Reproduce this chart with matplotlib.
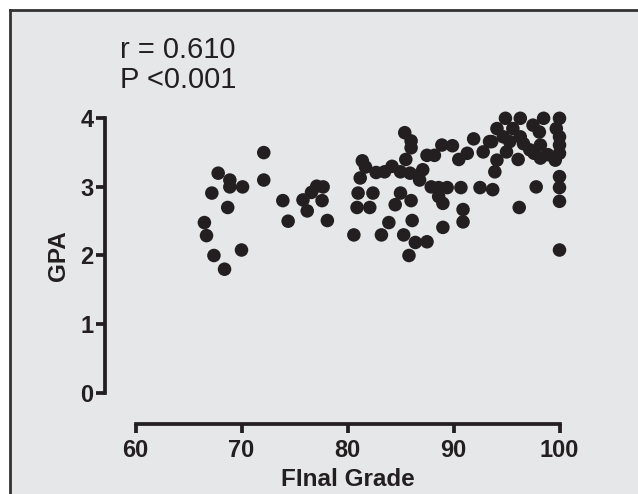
import numpy as np
import matplotlib
matplotlib.use("Agg")
import matplotlib.pyplot as plt
from matplotlib.lines import Line2D

plt.rcParams['font.family'] = ['Liberation Sans', 'DejaVu Sans']

# final grade vs GPA
grade = [66.5, 66.7, 67.2, 67.4, 67.8, 68.4, 68.7, 68.9, 68.9, 70.0, 70.1,
         72.1, 72.1, 73.9, 74.4, 75.8, 76.2, 76.6, 77.1, 77.7, 77.6, 78.1,
         80.6, 80.9, 81.0, 81.2, 81.4, 81.7, 82.1, 82.4, 82.7, 83.2, 83.5,
         83.9, 84.2, 84.5, 85.0, 85.0, 85.3, 85.4, 85.5, 85.8, 85.9, 86.0,
         86.0, 86.0, 86.1, 86.4, 86.7, 86.8, 87.1, 87.5, 87.5, 87.9, 88.2,
         88.6, 88.6, 88.9, 89.0, 89.0, 89.4, 89.9, 90.5, 90.7, 90.9, 90.9,
         91.3, 91.9, 92.5, 92.8, 93.4, 93.6, 93.7, 93.9, 94.1, 94.1, 94.7,
         94.9, 95.0, 95.3, 95.6, 96.1, 96.2, 96.3, 96.3, 96.6, 97.2, 97.5,
         97.6, 97.8, 98.1, 98.2, 98.2, 98.5, 98.9, 99.6, 99.7,
         100, 100, 100, 100, 100, 100, 100, 100]
gpa = [2.48, 2.29, 2.91, 2.00, 3.20, 1.80, 2.70, 3.10, 3.00, 2.08, 3.00,
       3.50, 3.10, 2.80, 2.50, 2.81, 2.65, 2.92, 3.01, 3.00, 2.80, 2.51,
       2.30, 2.70, 2.91, 3.13, 3.38, 3.29, 2.70, 2.91, 3.21, 2.30, 3.22,
       2.48, 3.30, 2.74, 2.91, 3.22, 2.30, 3.79, 3.40, 2.00, 3.20, 3.67,
       3.57, 2.80, 2.51, 2.19, 3.17, 3.10, 3.25, 3.46, 2.20, 3.00, 3.46,
       2.99, 2.86, 3.61, 2.76, 2.41, 2.99, 3.60, 3.40, 2.99, 2.67, 2.49,
       3.49, 3.70, 2.99, 3.51, 3.66, 3.66, 2.96, 3.22, 3.85, 3.39, 3.73,
       4.00, 3.51, 3.66, 3.85, 3.40, 2.70, 4.00, 3.73, 3.63, 3.54, 3.90,
       3.49, 3.00, 3.80, 3.61, 3.42, 4.00, 3.47, 3.39, 3.85,
       4.00, 3.73, 3.61, 3.49, 3.15, 2.99, 2.79, 2.08]

xticks = [60, 70, 80, 90, 100]
yticks = [0, 1, 2, 3, 4]
stats_text = "r = 0.610\nP <0.001"

bg = "#e6e7e8"
ink = "#231f20"

fig = plt.figure(figsize=(6.38, 4.94), dpi=100)
fig.patch.set_facecolor("white")

# grey panel with a dark frame on top and left
panel = plt.Rectangle((10 / 638, 0), 1, 1 - 10 / 494, transform=fig.transFigure,
                      facecolor=bg, edgecolor="none", zorder=-10)
fig.add_artist(panel)
fig.add_artist(Line2D([9.5 / 638, 1], [1 - 10.5 / 494] * 2, color="#333333",
                      lw=2, zorder=-5))
fig.add_artist(Line2D([9.5 / 638] * 2, [0, 1 - 10.5 / 494], color="#333333",
                      lw=2, zorder=-5))

ax = fig.add_axes([135.5 / 638, 101.3 / 494, 424 / 638, 274.4 / 494])
ax.set_zorder(5)
ax.set_facecolor("none")
ax.scatter(grade, gpa, s=95, color=ink, edgecolors="none", clip_on=False, zorder=3)

ax.set_xlim(60, 100)
ax.set_ylim(0, 4)
ax.set_xticks(xticks)
ax.set_yticks(yticks)

for side in ["top", "right"]:
    ax.spines[side].set_visible(False)
ax.spines["left"].set_position(("outward", 22))
ax.spines["bottom"].set_position(("outward", 22.2))
ax.spines["left"].set_bounds(0, 4)
ax.spines["bottom"].set_bounds(60, 100)
for side in ["left", "bottom"]:
    ax.spines[side].set_linewidth(2.7)
    ax.spines[side].set_color(ink)
    ax.spines[side].set_capstyle("projecting")

ax.tick_params(axis="both", length=6.3, width=2.7, color=ink, labelsize=17,
               labelcolor=ink)
ax.tick_params(axis="x", pad=5)
ax.tick_params(axis="y", pad=2)
for lab in ax.get_xticklabels() + ax.get_yticklabels():
    lab.set_fontweight("bold")

ax.set_xlabel("FInal Grade", fontsize=17.5, fontweight="bold", color=ink, labelpad=4.5)
ax.set_ylabel("GPA", fontsize=17.5, fontweight="bold", color=ink, labelpad=7.5)

fig.text(120 / 638, 1 - 36 / 494, stats_text, fontsize=21, color=ink,
         va="top", ha="left", linespacing=1.1)

fig.savefig("out.png", dpi=100, facecolor=fig.get_facecolor())
